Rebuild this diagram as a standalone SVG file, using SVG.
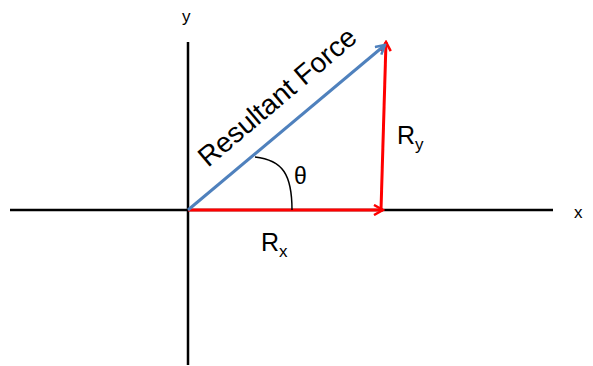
<svg xmlns="http://www.w3.org/2000/svg" width="593" height="366" viewBox="0 0 593 366">
<style>
.axis{stroke:#000;stroke-width:2.5;fill:none}
.red{stroke:#ff0000;stroke-width:3;fill:none}
.blue{stroke:#4f81bd;stroke-width:3;fill:none}
.lbl{font-family:"Liberation Sans",Arial,sans-serif;fill:#000}
</style>
<defs>
<marker id="ar" viewBox="0 0 12 12" refX="10" refY="6" markerWidth="12" markerHeight="12" markerUnits="userSpaceOnUse" orient="auto"><path d="M1,1 L10,6 L1,11" fill="none" stroke="#ff0000" stroke-width="2.5"/></marker>
<marker id="ab" viewBox="0 0 12 12" refX="10" refY="6" markerWidth="12" markerHeight="12" markerUnits="userSpaceOnUse" orient="auto"><path d="M1,1 L10,6 L1,11" fill="none" stroke="#4f81bd" stroke-width="2.5"/></marker>
</defs>
<g id="axes">
<line class="axis" x1="10" y1="210" x2="553" y2="210"/>
<line class="axis" x1="188" y1="42" x2="188" y2="365"/>
<text class="lbl" x="574" y="218" font-size="17">x</text>
<text class="lbl" x="182" y="22" font-size="17">y</text>
</g>
<g id="connectors">
<line class="red" x1="188" y1="210" x2="383" y2="210" marker-end="url(#ar)"/>
<line class="red" x1="381" y1="210" x2="386" y2="42" marker-end="url(#ar)"/>
<line class="blue" x1="188" y1="210" x2="385" y2="45" marker-end="url(#ab)"/>
<path d="M255,157 C283,160 292,175 292,210" fill="none" stroke="#000" stroke-width="1.5"/>
</g>
<g id="labels">
<text class="lbl" font-size="28" transform="translate(208,168) rotate(-40.3)">Resultant Force</text>
<text class="lbl" x="294" y="184" font-size="23">θ</text>
<text class="lbl" x="261" y="251" font-size="25">R<tspan font-size="17" dy="6">x</tspan></text>
<text class="lbl" x="397" y="144" font-size="25">R<tspan font-size="17" dy="6">y</tspan></text>
</g>
</svg>
